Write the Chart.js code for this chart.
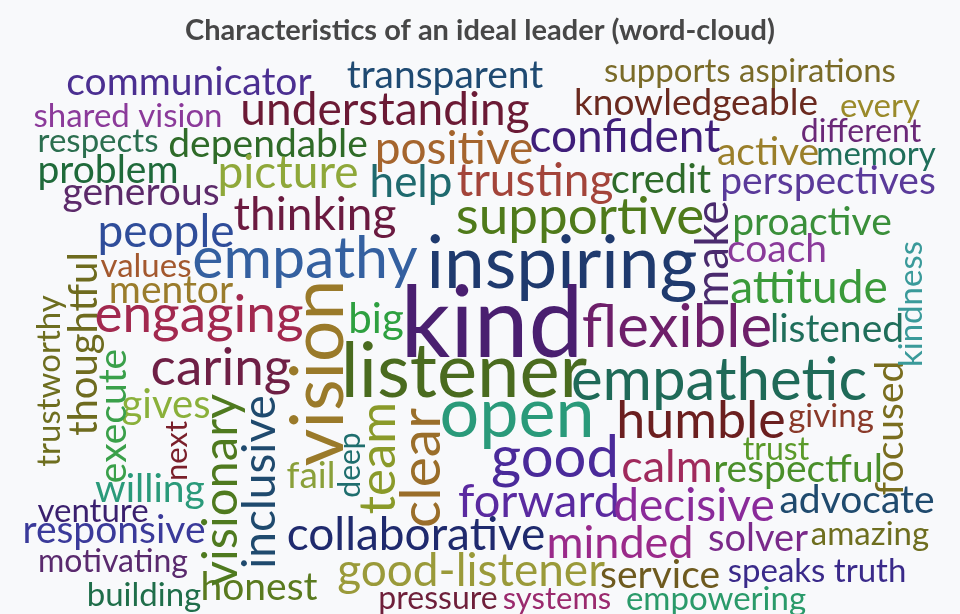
<!DOCTYPE html>
<html>
<head>
<meta charset="utf-8">
<title>Characteristics of an ideal leader</title>
<script src="https://cdn.jsdelivr.net/npm/chart.js@4.4.1/dist/chart.umd.min.js"></script>
<style>
    body { margin: 0; background: #f8f9fb; }
    #wrap { width: 960px; height: 614px; position: relative; }
</style>
</head>
<body>
<div id="wrap"><canvas id="cloud"></canvas></div>
<script>
// words of the cloud
const words = [
    'communicator', 'shared vision', 'understanding', 'respects', 'dependable',
    'problem', 'generous', 'picture', 'thinking', 'transparent',
    'positive', 'confident', 'help', 'trusting', 'credit',
    'supportive', 'supports aspirations', 'knowledgeable', 'every', 'different',
    'active', 'memory', 'perspectives', 'proactive', 'people',
    'empathy', 'values', 'mentor', 'engaging', 'caring',
    'inspiring', 'kind', 'big', 'listener', 'flexible',
    'empathetic', 'open', 'fail', 'good', 'humble',
    'forward', 'decisive', 'calm', 'collaborative', 'minded',
    'good-listener', 'pressure', 'systems', 'service', 'empowering',
    'giving', 'trust', 'respectful', 'advocate', 'solver',
    'amazing', 'speaks truth', 'coach', 'attitude', 'listened',
    'gives', 'willing', 'venture', 'responsive', 'motivating',
    'building', 'honest', 'trustworthy', 'thoughtful', 'execute',
    'next', 'visionary', 'inclusive', 'vision', 'clear',
    'team', 'deep', 'focused', 'make', 'kindness'
];

// weight of each word (font size)
const weights = [
    39, 33, 46, 33, 39,
    39, 39, 46, 46, 39,
    46, 46, 44, 46, 40,
    53, 33, 37, 33, 32,
    39, 33, 39, 39, 46,
    59, 33, 39, 53, 53,
    73, 98, 42, 76, 60,
    60, 70, 37, 58, 52,
    47, 46, 45, 46, 45,
    46, 32, 31, 39, 33,
    33, 32, 39, 39, 38,
    33, 33, 39, 46, 39,
    40, 39, 33, 39, 32,
    33, 39, 33, 40, 39,
    31, 49, 46, 73, 57,
    51, 30, 39, 46, 33
];

// where each word sits (x centre / baseline)
const wordX = [
    189, 128, 385, 98, 268,
    108, 141, 288, 315, 445,
    454, 625, 411, 535, 661,
    580, 750, 696, 880, 861,
    768, 876, 828, 812, 166,
    305, 146, 171, 199, 221,
    562, 492, 376, 464, 677,
    719, 517, 311, 555, 701,
    539, 694, 667, 416, 620,
    471, 438, 557, 660, 716,
    831, 776, 798, 857, 758,
    870, 817, 777, 809, 837,
    166, 150, 93, 114, 113,
    144, 259, 60, 97, 126,
    187, 237, 275, 343, 440,
    395, 360, 903, 728, 922
];
const wordY = [
    95, 127, 125, 152, 157,
    183, 205, 188, 230, 88,
    164, 152, 197, 196, 193,
    234, 82, 115, 117, 142,
    165, 165, 194, 235, 247,
    278, 277, 303, 332, 385,
    288, 357, 333, 397, 347,
    400, 437, 488, 477, 438,
    517, 521, 482, 550, 558,
    586, 609, 609, 588, 610,
    427, 460, 482, 513, 551,
    545, 582, 262, 303, 342,
    418, 502, 522, 543, 572,
    606, 600, 381, 344, 416,
    451, 490, 482, 373, 468,
    458, 465, 428, 254, 304
];

// words written bottom-to-top
const rotated = [
    'trustworthy', 'thoughtful', 'execute', 'next', 'visionary', 'inclusive',
    'vision', 'clear', 'team', 'deep', 'focused', 'make', 'kindness'
];

const colors = [
    '#4b2f91', '#8b3a9a', '#6b1a35', '#2b6e4f', '#2f6b28',
    '#1f6a3a', '#5c2a6a', '#8fa83a', '#6b1a40', '#1f4a72',
    '#a5652e', '#3f1e7a', '#1f6a6e', '#a3443a', '#2e6b2a',
    '#4f7a1a', '#7a6b28', '#6b2a1f', '#9a8a2a', '#6a2878',
    '#9a7f2a', '#1f6e5a', '#5a3a9a', '#3a8f3a', '#2f4d9a',
    '#3460a0', '#a3582e', '#9a7c2c', '#a2294f', '#6e1f45',
    '#1f3a6e', '#4a1f70', '#2ea040', '#4a6b1f', '#6e1f6a',
    '#1f6a58', '#2a9a7a', '#8aa03a', '#4a2a9a', '#6b1f1f',
    '#5a2aa0', '#8a2a9a', '#a02a5c', '#1f2a6e', '#9a2a8a',
    '#9a9a3a', '#6e1f3a', '#9a2a6e', '#6e5a1f', '#2a9a6a',
    '#8a3a2a', '#5a9a2a', '#4a8f2a', '#1f4a6e', '#7a2a8a',
    '#6e6e1f', '#3a2a8a', '#8a3a9a', '#3a9a3a', '#1f6e5a',
    '#8ab03a', '#2a9a7a', '#3a1f6e', '#3a3a9a', '#5a2a6e',
    '#1f6e4a', '#5a7a1f', '#6e6e1f', '#6e6b1f', '#3aa04a',
    '#7a1f2a', '#4f7a1f', '#1f4a6e', '#9a7a2a', '#9a6e2a',
    '#8a9a2a', '#1f6e6e', '#7a6e1f', '#4a2a6e', '#3a9a9a'
];

// draws the words on the points of the scatter
const wordPlugin = {
    id: 'wordCloud',
    afterDatasetsDraw(chart) {
        const ctx = chart.ctx;
        const meta = chart.getDatasetMeta(0);
        meta.data.forEach((pt, i) => {
            ctx.save();
            ctx.translate(pt.x, pt.y);
            if (rotated.includes(words[i])) {
                ctx.rotate(-Math.PI / 2);
            }
            ctx.font = `${weights[i]}px Lato`;
            ctx.fillStyle = colors[i];
            ctx.textAlign = 'center';
            ctx.textBaseline = 'alphabetic';
            ctx.fillText(words[i], 0, 0);
            ctx.restore();
        });
    }
};

const points = words.map((w, i) => ({ x: wordX[i], y: wordY[i] }));

const ctx = document.getElementById('cloud').getContext('2d');
const cloud = new Chart(ctx, {
    type: 'scatter',
    data: {
        datasets: [{
            data: points,
            pointRadius: 0,
            pointHoverRadius: 0
        }]
    },
    options: {
        responsive: true,
        maintainAspectRatio: false,
        animation: false,
        layout: { padding: 0 },
        scales: {
            x: { display: false, min: 0, max: 960 },
            // top of the y range = height of the title block
            y: { display: false, min: 56.8, max: 614, reverse: true }
        },
        plugins: {
            legend: { display: false },
            tooltip: { enabled: false },
            title: {
                display: true,
                text: 'Characteristics of an ideal leader (word-cloud)',
                color: '#474747',
                font: { family: 'Lato', size: 29, weight: 'bold', lineHeight: 1.2 },
                padding: { top: 13, bottom: 9 }
            }
        }
    },
    plugins: [wordPlugin]
});
</script>
</body>
</html>
